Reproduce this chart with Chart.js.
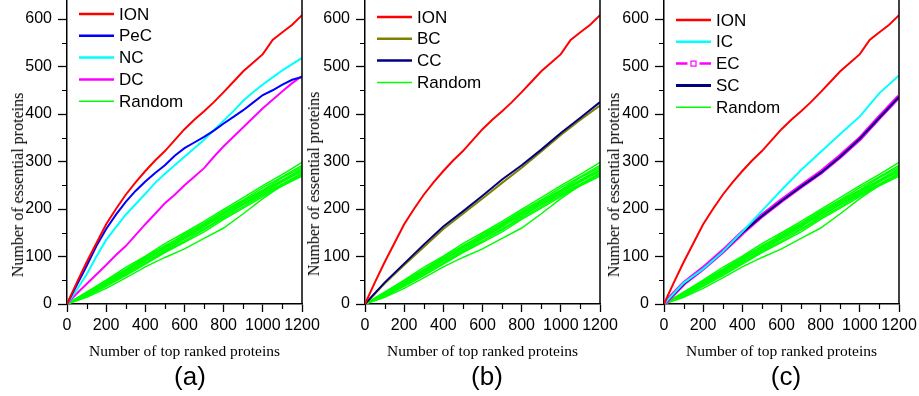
<!DOCTYPE html>
<html>
<head>
<meta charset="utf-8">
<script src="https://cdn.jsdelivr.net/npm/chart.js@4.4.1/dist/chart.umd.min.js"></script>
<style>
  body { margin: 0; background: #fff; width: 919px; height: 396px; overflow: hidden; position: relative; }
  canvas { position: absolute; top: 0; }
  .ylab { position: absolute; font: 16px "Liberation Serif", "Times New Roman", serif; color: #000;
          white-space: nowrap; transform: translate(-50%, -50%) rotate(-90deg); }
  .plab { position: absolute; font: 26px "Liberation Sans", Arial, sans-serif; color: #000; line-height: 1;
          transform: translate(-50%, -50%); }
</style>
</head>
<body>
<canvas id="ca" width="330" height="396" style="left:0px"></canvas>
<canvas id="cb" width="330" height="396" style="left:298px"></canvas>
<canvas id="cc" width="322" height="396" style="left:597px"></canvas>
<div class="ylab" style="left:17.5px; top:185px">Number of essential proteins</div>
<div class="ylab" style="left:314px; top:184px">Number of essential proteins</div>
<div class="ylab" style="left:614px; top:185px">Number of essential proteins</div>
<div class="plab" style="left:190px; top:376px">(a)</div>
<div class="plab" style="left:487px; top:376px">(b)</div>
<div class="plab" style="left:786px; top:376px">(c)</div>
<script>
// x positions (number of top ranked proteins)
const xFine = [0, 50, 100, 150, 200, 250, 300, 350, 400, 450, 500, 550, 600,
               650, 700, 750, 800, 850, 900, 950, 1000, 1050, 1100, 1150, 1200];
const xCoarse = [0, 100, 200, 300, 400, 500, 600, 700, 800, 900, 1000, 1100, 1200];

const xTicks = [0, 200, 400, 600, 800, 1000, 1200];
const yTicks = [0, 100, 200, 300, 400, 500, 600];

// essential proteins found, on xFine
const ion = [0, 45, 88, 128, 168, 200, 230, 256, 280, 302, 322, 345, 368, 388, 406, 425, 446, 468, 490, 508, 526, 556, 572, 588, 608];
const pec = [0, 40, 80, 122, 158, 188, 215, 238, 258, 276, 292, 312, 328, 340, 352, 365, 380, 394, 408, 424, 440, 450, 462, 472, 478];
const nc  = [0, 30, 62, 100, 135, 162, 188, 210, 232, 255, 274, 292, 310, 328, 346, 366, 386, 406, 428, 446, 462, 477, 492, 505, 518];
const dc  = [0, 22, 42, 62, 82, 103, 122, 145, 168, 190, 212, 230, 250, 268, 286, 310, 332, 352, 372, 392, 412, 430, 448, 465, 480];

// on xCoarse
const bc = [0, 43, 82, 120, 158, 190, 222, 255, 287, 321, 356, 388, 418];
const cc = [0, 45, 85, 125, 163, 195, 228, 262, 292, 325, 360, 392, 425];
const ic = [0, 44, 74, 110, 152, 196, 240, 282, 320, 358, 395, 444, 481];
const ec = [0, 43, 75, 111, 150, 186, 218, 248, 277, 311, 348, 393, 437];
const sc = [0, 42, 74, 110, 150, 185, 217, 247, 276, 310, 348, 392, 436];

const random1  = [0, 25, 50, 77, 101, 127, 150, 174, 199, 224, 249, 273, 298];
const random2  = [0, 22, 49, 73, 99, 121, 147, 170, 196, 219, 245, 268, 292];
const random3  = [0, 24, 46, 71, 97, 123, 144, 167, 193, 217, 240, 266, 288];
const random4  = [0, 20, 47, 70, 95, 117, 143, 166, 189, 215, 238, 261, 285];
const random5  = [0, 23, 44, 69, 92, 119, 140, 162, 191, 212, 236, 259, 282];
const random6  = [0, 19, 43, 67, 93, 114, 139, 164, 186, 210, 233, 257, 279];
const random7  = [0, 21, 41, 65, 89, 112, 137, 158, 184, 209, 232, 253, 275];
const random8  = [0, 17, 40, 63, 86, 110, 133, 156, 181, 205, 229, 251, 272];
const random9  = [0, 15, 37, 60, 84, 108, 130, 152, 178, 202, 226, 249, 269];
const random10 = [0, 14, 33, 55, 78, 98, 116, 138, 160, 190, 222, 250, 276];
const randomRuns = [random1, random2, random3, random4, random5, random6, random7, random8, random9, random10];

const SANS = '"Liberation Sans", Arial, sans-serif';
const SERIF = '"Liberation Serif", "Times New Roman", serif';

function line(label, xs, ys, color, width, order, extra) {
    return Object.assign({
        label: label,
        data: xs.map((x, i) => ({ x: x, y: ys[i] })),
        borderColor: color,
        backgroundColor: color,
        borderWidth: width,
        pointRadius: 0,
        tension: 0,
        fill: false,
        order: order
    }, extra || {});
}

function randomSets() {
    return randomRuns.map((r, i) => line(i === 0 ? 'Random' : '', xCoarse, r, '#00ff00', 1.5, 20, { legendWidth: 1.5 }));
}

// right frame, minor ticks and the in-plot legend
const decor = {
    id: 'decor',
    afterDraw(chart, args, opts) {
        const { ctx, chartArea: a } = chart;
        const x = chart.scales.x, y = chart.scales.y;
        ctx.save();
        ctx.strokeStyle = '#000';
        ctx.lineWidth = 1.5;
        ctx.beginPath();
        ctx.moveTo(a.right, a.top);
        ctx.lineTo(a.right, a.bottom);
        ctx.stroke();

        ctx.lineWidth = 1.2;
        ctx.beginPath();
        for (let v = 50; v <= y.max; v += 100) {
            const py = Math.round(y.getPixelForValue(v)) + 0.5;
            ctx.moveTo(a.left - 5, py);
            ctx.lineTo(a.left, py);
        }
        for (let v = 100; v < x.max; v += 200) {
            const px = Math.round(x.getPixelForValue(v)) + 0.5;
            ctx.moveTo(px, a.bottom);
            ctx.lineTo(px, a.bottom + 5);
        }
        ctx.stroke();

        ctx.font = '17px ' + SANS;
        ctx.textBaseline = 'middle';
        ctx.fillStyle = '#000';
        let yy = a.top + opts.top;
        chart.data.datasets.forEach(ds => {
            if (!ds.label) return;
            const x0 = a.left + 12, x1 = a.left + 47;
            ctx.strokeStyle = ds.borderColor;
            ctx.lineWidth = ds.legendWidth || 2.5;
            ctx.beginPath();
            if (ds.legendMarker) {
                const mid = (x0 + x1) / 2;
                ctx.moveTo(x0, yy); ctx.lineTo(mid - 6, yy);
                ctx.moveTo(mid + 6, yy); ctx.lineTo(x1, yy);
                ctx.stroke();
                ctx.lineWidth = 1.2;
                ctx.strokeRect(mid - 2.5, yy - 2.5, 5, 5);
            } else {
                ctx.moveTo(x0, yy); ctx.lineTo(x1, yy);
                ctx.stroke();
            }
            ctx.fillText(ds.label, a.left + 52, yy + 1);
            yy += 21.8;
        });
        ctx.restore();
    }
};

function makeChart(id, datasets, rightPad, legendTop) {
    return new Chart(document.getElementById(id), {
        type: 'line',
        data: { datasets: datasets },
        options: {
            responsive: false,
            animation: false,
            devicePixelRatio: 1,
            layout: { padding: { left: 0, right: rightPad, top: 0, bottom: 0 } },
            plugins: {
                legend: { display: false },
                tooltip: { enabled: false },
                decor: { top: legendTop }
            },
            scales: {
                x: {
                    type: 'linear',
                    min: 0,
                    max: 1200,
                    afterBuildTicks: s => { s.ticks = xTicks.map(v => ({ value: v })); },
                    afterFit: s => { s.height = 92; s.paddingLeft = 0; s.paddingRight = 0; },
                    ticks: { font: { family: SANS, size: 16 }, color: '#000', padding: 4,
                             maxRotation: 0, autoSkip: false, callback: v => String(v) },
                    grid: { drawOnChartArea: false, tickLength: 8, tickColor: '#000', tickWidth: 1.3 },
                    border: { color: '#000', width: 1.5 },
                    title: { display: true, text: 'Number of top ranked proteins', color: '#000',
                             font: { family: SERIF, size: 15.5 }, padding: { top: 0, bottom: 34.7 } }
                },
                y: {
                    type: 'linear',
                    min: 0,
                    max: 640,
                    afterBuildTicks: s => { s.ticks = yTicks.map(v => ({ value: v })); },
                    afterFit: s => { s.width = 67; s.paddingTop = 0; s.paddingBottom = 0; },
                    ticks: { font: { family: SANS, size: 16 }, color: '#000', padding: 6, callback: v => String(v) },
                    grid: { drawOnChartArea: false, tickLength: 9, tickColor: '#000', tickWidth: 1.3 },
                    border: { color: '#000', width: 1.5 }
                }
            }
        },
        plugins: [decor]
    });
}

makeChart('ca', [
    line('ION', xFine, ion, '#ff0000', 2, 1),
    line('PeC', xFine, pec, '#0000ff', 2, 2),
    line('NC', xFine, nc, '#00ffff', 2, 3),
    line('DC', xFine, dc, '#ff00ff', 2, 4),
].concat(randomSets()), 28, 14);

makeChart('cb', [
    line('ION', xFine, ion, '#ff0000', 2, 1),
    line('BC', xCoarse, bc, '#808000', 2, 3),
    line('CC', xCoarse, cc, '#000080', 2, 2),
].concat(randomSets()), 28, 17);

makeChart('cc', [
    line('ION', xFine, ion, '#ff0000', 2, 1),
    line('IC', xCoarse, ic, '#00ffff', 2, 2),
    line('EC', xCoarse, ec, '#ff00ff', 4.5, 5, { legendMarker: true }),
    line('SC', xCoarse, sc, '#000080', 2, 3, { legendWidth: 3 }),
].concat(randomSets()), 20, 20);
</script>
</body>
</html>
